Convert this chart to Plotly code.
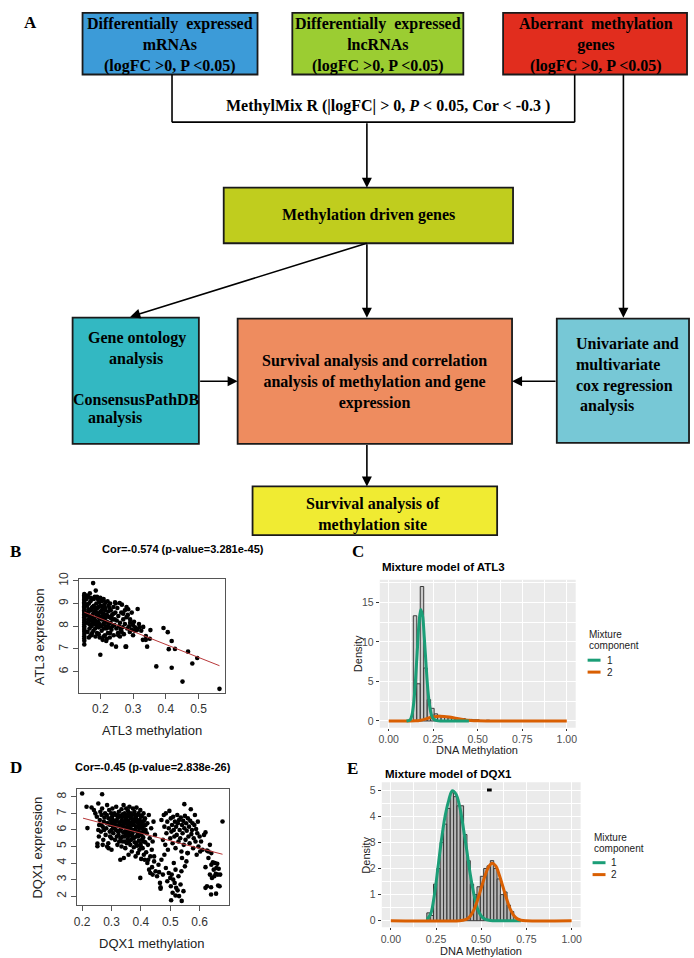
import plotly.graph_objects as go

# ------------------------------------------------------------------ data
# Panel B: ATL3 methylation vs expression
atl3_points = [
    (0.151, 9.42), (0.151, 9.36), (0.151, 9.30), (0.151, 9.24), (0.151, 9.18), (0.151, 9.12), (0.151, 9.06),
    (0.151, 9.00), (0.151, 8.94), (0.151, 8.88), (0.151, 8.82), (0.151, 8.76), (0.151, 8.70), (0.151, 8.64),
    (0.151, 8.58), (0.151, 8.52), (0.151, 8.46), (0.151, 8.40), (0.151, 8.32), (0.151, 8.24), (0.151, 8.16),
    (0.151, 8.08), (0.151, 8.00), (0.151, 7.92), (0.151, 7.84), (0.151, 7.76), (0.151, 7.66), (0.151, 7.56),
    (0.151, 7.46), (0.151, 7.36), (0.151, 7.20),
    (0.158, 9.20), (0.160, 8.90), (0.162, 8.60), (0.163, 8.30), (0.165, 9.00), (0.166, 8.10), (0.167, 7.90),
    (0.168, 8.70), (0.170, 9.10), (0.170, 8.40), (0.172, 8.00), (0.173, 7.60), (0.174, 8.80), (0.175, 9.20),
    (0.176, 8.50), (0.177, 8.20), (0.178, 9.90), (0.179, 7.80), (0.180, 8.90), (0.181, 8.60), (0.182, 8.30),
    (0.183, 9.30), (0.184, 7.90), (0.185, 8.70), (0.186, 9.57), (0.187, 8.10), (0.188, 9.00), (0.189, 8.45),
    (0.190, 7.70), (0.191, 8.80), (0.192, 9.20), (0.193, 8.20), (0.194, 8.55), (0.195, 7.95), (0.196, 9.05),
    (0.197, 8.35), (0.198, 7.50), (0.200, 6.74), (0.200, 8.65), (0.201, 8.90), (0.202, 8.00), (0.203, 9.10),
    (0.204, 7.80), (0.205, 8.40), (0.206, 8.75), (0.207, 7.40), (0.208, 9.15), (0.209, 8.10), (0.210, 8.55),
    (0.211, 7.90), (0.212, 8.95), (0.213, 8.30), (0.214, 7.60), (0.215, 8.80), (0.216, 9.05), (0.217, 8.00),
    (0.218, 7.35), (0.219, 8.50), (0.220, 8.20), (0.222, 9.10), (0.223, 7.70), (0.224, 8.65), (0.225, 8.90),
    (0.226, 7.95), (0.228, 8.40), (0.229, 7.50), (0.230, 9.00), (0.231, 8.15), (0.232, 8.70), (0.234, 7.85),
    (0.235, 7.20), (0.236, 8.50), (0.238, 8.30), (0.240, 8.85), (0.241, 7.60), (0.243, 8.05), (0.245, 9.05),
    (0.246, 8.60), (0.247, 9.00), (0.248, 7.10), (0.249, 7.90), (0.250, 8.25), (0.252, 8.80), (0.254, 7.70),
    (0.255, 8.45), (0.257, 8.00), (0.259, 9.02), (0.260, 8.15), (0.262, 7.85), (0.264, 8.60), (0.266, 8.95),
    (0.268, 7.95), (0.270, 8.30), (0.272, 7.65), (0.275, 8.10), (0.277, 7.10), (0.279, 7.10), (0.280, 8.40),
    (0.282, 7.90), (0.285, 8.75), (0.288, 8.00), (0.291, 8.30), (0.291, 8.15), (0.295, 7.85), (0.300, 8.05),
    (0.305, 7.80), (0.310, 7.90), (0.312, 7.83), (0.314, 8.76), (0.320, 7.95), (0.331, 7.97), (0.330, 7.40),
    (0.339, 7.57), (0.339, 7.40), (0.343, 7.10), (0.351, 7.45), (0.353, 7.83), (0.371, 6.23), (0.393, 7.92),
    (0.406, 7.74), (0.418, 7.35), (0.418, 6.17), (0.409, 6.99), (0.428, 7.00), (0.451, 5.56), (0.468, 6.88),
    (0.481, 6.36), (0.496, 6.60), (0.564, 5.24),
    (0.156, 8.95), (0.157, 8.50), (0.159, 8.15), (0.161, 7.75), (0.164, 8.75), (0.166, 8.45), (0.169, 8.25),
    (0.171, 8.70), (0.174, 8.05), (0.176, 8.85), (0.178, 8.35), (0.180, 8.10), (0.183, 8.80), (0.185, 8.25),
    (0.187, 8.60), (0.190, 8.00), (0.192, 8.45), (0.194, 8.85), (0.197, 8.10), (0.199, 8.40), (0.202, 8.60),
    (0.204, 8.30), (0.207, 8.85), (0.209, 8.50), (0.212, 8.15), (0.214, 8.70), (0.217, 8.40), (0.219, 7.90),
    (0.222, 8.45), (0.225, 8.10), (0.228, 8.80), (0.230, 7.70), (0.233, 8.35), (0.237, 8.00), (0.240, 8.55),
    (0.244, 8.30), (0.158, 9.35), (0.163, 9.30), (0.168, 9.45), (0.171, 9.25), (0.180, 9.20), (0.190, 9.30),
    (0.200, 9.25), (0.210, 9.20), (0.165, 7.50), (0.170, 7.60), (0.175, 7.70), (0.185, 7.55), (0.195, 7.65),
    (0.210, 7.55), (0.220, 7.45), (0.255, 7.60), (0.260, 7.55), (0.265, 7.75), (0.270, 8.55), (0.275, 8.70),
    (0.280, 8.85), (0.284, 8.50), (0.290, 7.75), (0.296, 8.60), (0.300, 7.60), (0.303, 8.20), (0.306, 7.95),
    (0.318, 8.10), (0.325, 7.80),
]
atl3_meth = [p[0] for p in atl3_points]
atl3_expr = [p[1] for p in atl3_points]
atl3_fit_x = [0.151, 0.564]
atl3_fit_y = [8.62, 6.26]

# Panel D: DQX1 methylation vs expression
dqx1_points = [
    (0.200, 8.20), (0.268, 8.16), (0.218, 6.11), (0.548, 7.56), (0.678, 6.51), (0.398, 3.10), (0.503, 1.75),
    (0.539, 1.71), (0.518, 2.04), (0.639, 2.10), (0.656, 2.15), (0.663, 2.64), (0.668, 2.60), (0.639, 2.54),
    (0.467, 2.54), (0.467, 2.45),
    (0.215, 7.40), (0.232, 7.36), (0.240, 7.20), (0.245, 7.00), (0.250, 6.80), (0.255, 7.60), (0.252, 5.18),
    (0.252, 5.02), (0.257, 5.60), (0.258, 6.30), (0.260, 6.60), (0.262, 7.10), (0.264, 5.90), (0.266, 6.90),
    (0.268, 7.30), (0.270, 6.20), (0.272, 5.40), (0.274, 6.50), (0.276, 6.75), (0.278, 7.00), (0.280, 5.70),
    (0.282, 6.10), (0.284, 6.90), (0.285, 7.50), (0.287, 6.40), (0.289, 5.20), (0.290, 6.70), (0.292, 7.20),
    (0.294, 5.90), (0.295, 6.30), (0.297, 6.60), (0.299, 7.00), (0.300, 5.50), (0.300, 6.00),
    (0.302, 6.80), (0.303, 7.30), (0.305, 6.20), (0.306, 5.80), (0.308, 6.50), (0.310, 7.00), (0.311, 6.35),
    (0.312, 5.40), (0.314, 6.90), (0.315, 6.00), (0.316, 7.40), (0.318, 6.60), (0.320, 5.10), (0.321, 6.25),
    (0.322, 6.75), (0.324, 5.70), (0.325, 7.10), (0.327, 6.45), (0.328, 5.95), (0.330, 6.85), (0.330, 4.20),
    (0.331, 5.50), (0.333, 6.10), (0.334, 7.25), (0.335, 6.60), (0.337, 5.30), (0.338, 6.95), (0.339, 6.30),
    (0.340, 5.85), (0.341, 7.50), (0.342, 4.30), (0.343, 6.50), (0.344, 5.60), (0.345, 7.00), (0.346, 6.15),
    (0.347, 4.90), (0.348, 6.70), (0.349, 5.75), (0.350, 7.30), (0.351, 6.40), (0.352, 5.20), (0.353, 6.85),
    (0.354, 6.00), (0.355, 5.45), (0.356, 7.15), (0.357, 6.55), (0.358, 4.50), (0.359, 5.90), (0.360, 6.25),
    (0.361, 7.40), (0.362, 5.65), (0.363, 6.80), (0.364, 5.10), (0.365, 6.10), (0.366, 7.00), (0.367, 5.40),
    (0.368, 6.45), (0.369, 4.70), (0.370, 6.90), (0.371, 5.80), (0.372, 6.30), (0.373, 7.30), (0.374, 5.55),
    (0.375, 6.65), (0.376, 4.95), (0.377, 6.00), (0.378, 7.10), (0.379, 5.25), (0.380, 6.50), (0.381, 5.95),
    (0.382, 4.40), (0.383, 6.75), (0.384, 5.60), (0.385, 7.35), (0.386, 6.20), (0.387, 5.05), (0.388, 6.90),
    (0.389, 5.75), (0.390, 4.60), (0.391, 6.40), (0.392, 7.00), (0.393, 5.35), (0.394, 6.10), (0.395, 4.80),
    (0.396, 6.60), (0.397, 5.85), (0.398, 7.20), (0.399, 5.15), (0.400, 6.35), (0.401, 4.25), (0.402, 5.70),
    (0.403, 6.85), (0.404, 5.40), (0.405, 6.10), (0.406, 4.90), (0.407, 6.50), (0.408, 5.55), (0.409, 7.00),
    (0.410, 4.50), (0.411, 6.25), (0.412, 5.90), (0.413, 4.20), (0.414, 6.70), (0.415, 5.25), (0.416, 6.00),
    (0.418, 4.65), (0.420, 5.80), (0.422, 6.40), (0.424, 5.10), (0.425, 4.20), (0.427, 6.90), (0.430, 5.50),
    (0.432, 4.40), (0.435, 6.10), (0.437, 4.80), (0.440, 5.30), (0.443, 6.50), (0.445, 4.10), (0.448, 5.70),
    (0.305, 6.60), (0.310, 6.10), (0.315, 6.50), (0.320, 6.90), (0.322, 5.90), (0.326, 6.30), (0.330, 6.00),
    (0.333, 6.50), (0.336, 6.80), (0.340, 6.20), (0.343, 6.90), (0.346, 5.90), (0.350, 6.60), (0.353, 6.20),
    (0.356, 6.90), (0.360, 5.70), (0.363, 6.40), (0.366, 6.70), (0.370, 6.00), (0.373, 6.60), (0.376, 6.30),
    (0.380, 6.90), (0.383, 6.20), (0.386, 6.60), (0.390, 5.90), (0.393, 6.50), (0.396, 6.20), (0.400, 6.80),
    (0.404, 6.30), (0.408, 5.90), (0.412, 6.60), (0.416, 6.30), (0.338, 5.60), (0.345, 5.30), (0.352, 5.70),
    (0.360, 5.30), (0.368, 5.70), (0.376, 5.50), (0.384, 5.20), (0.392, 5.60), (0.400, 5.00), (0.410, 5.30),
    (0.318, 5.60), (0.326, 5.30), (0.334, 5.00), (0.300, 6.40), (0.295, 5.60), (0.285, 6.40), (0.275, 6.00),
    (0.265, 6.30), (0.255, 6.00), (0.285, 5.00), (0.270, 5.10), (0.290, 4.90), (0.300, 4.80),
    (0.422, 4.00), (0.428, 3.60), (0.432, 3.40), (0.438, 3.75), (0.440, 3.30), (0.445, 4.40), (0.450, 3.50),
    (0.455, 3.20), (0.460, 3.90), (0.462, 3.45), (0.465, 2.80), (0.470, 4.20), (0.475, 3.30), (0.480, 4.50),
    (0.485, 3.70), (0.490, 2.90), (0.495, 3.40), (0.500, 3.10), (0.502, 2.60), (0.505, 3.30), (0.508, 2.20),
    (0.510, 3.00), (0.512, 4.00), (0.515, 2.80), (0.518, 3.60), (0.520, 2.50), (0.525, 2.35), (0.528, 3.20),
    (0.530, 2.00), (0.535, 2.70), (0.538, 3.50), (0.540, 4.30), (0.545, 2.30), (0.550, 3.80), (0.555, 4.10),
    (0.560, 4.60),
    (0.470, 6.60), (0.475, 5.40), (0.478, 6.90), (0.480, 6.20), (0.483, 5.10), (0.485, 7.00), (0.487, 5.80),
    (0.490, 6.50), (0.492, 4.80), (0.495, 6.10), (0.497, 7.15), (0.500, 5.50), (0.502, 6.70), (0.504, 5.90),
    (0.506, 6.30), (0.508, 5.20), (0.510, 6.80), (0.512, 6.00), (0.514, 5.60), (0.516, 6.50), (0.518, 4.90),
    (0.520, 6.20), (0.522, 5.70), (0.524, 6.90), (0.526, 6.40), (0.528, 5.30), (0.530, 6.60), (0.532, 6.00),
    (0.534, 5.50), (0.536, 6.75), (0.538, 4.70), (0.540, 6.30), (0.542, 5.80), (0.544, 6.55), (0.546, 5.10),
    (0.548, 6.10), (0.550, 6.85), (0.552, 5.40), (0.554, 6.40), (0.556, 5.95), (0.558, 4.60), (0.560, 6.70),
    (0.562, 5.60), (0.564, 6.20), (0.566, 5.20), (0.568, 6.55), (0.570, 7.25), (0.572, 5.75), (0.574, 6.00),
    (0.576, 6.40), (0.578, 4.90), (0.580, 5.50), (0.582, 6.30), (0.584, 6.90), (0.586, 5.30), (0.588, 6.05),
    (0.590, 4.50), (0.592, 5.80), (0.594, 6.50), (0.596, 5.00), (0.600, 5.60), (0.602, 4.70), (0.605, 5.30),
    (0.610, 4.80), (0.615, 5.70), (0.620, 5.85), (0.625, 4.75), (0.630, 4.70), (0.635, 5.10), (0.640, 4.60),
    (0.620, 3.75), (0.630, 4.30), (0.635, 3.30), (0.640, 3.90), (0.642, 3.10), (0.645, 4.05), (0.648, 3.60),
    (0.650, 3.20), (0.652, 4.00), (0.655, 3.35), (0.657, 3.70), (0.660, 3.95), (0.662, 3.30), (0.665, 3.65),
    (0.620, 2.50), (0.625, 2.60), (0.670, 3.30),
]
dqx1_meth = [p[0] for p in dqx1_points]
dqx1_expr = [p[1] for p in dqx1_points]
dqx1_fit_x = [0.203, 0.678]
dqx1_fit_y = [6.71, 4.53]

# Panel C: ATL3 methylation histogram (density) and mixture components
atl3_bin_width = 0.0195
atl3_bin_left = [0.138, 0.1575, 0.177, 0.1965, 0.216, 0.2355, 0.255, 0.2745, 0.294, 0.3135, 0.333,
                 0.3525, 0.372, 0.3915, 0.411, 0.4305, 0.450, 0.4695, 0.489, 0.5085, 0.528, 0.5475]
atl3_density = [13.3, 4.7, 17.0, 6.7, 2.7, 1.6, 0.9, 0.7, 0.6, 0.5, 0.4,
                0.3, 0.25, 0.25, 0.3, 0.15, 0.2, 0.15, 0.15, 0.0, 0.0, 0.1]
atl3_c1_x = [0.10, 0.12, 0.13, 0.14, 0.15, 0.16, 0.17, 0.18, 0.19, 0.20, 0.21, 0.22, 0.23, 0.24, 0.25,
             0.27, 0.30, 0.45]
atl3_c1_y = [0.0, 0.15, 0.7, 2.2, 5.0, 8.7, 12.3, 14.1, 13.3, 10.5, 7.0, 3.9, 1.9, 0.75, 0.3,
             0.05, 0.0, 0.0]
atl3_c2_x = [0.00, 0.15, 0.18, 0.20, 0.22, 0.25, 0.28, 0.31, 0.34, 0.37, 0.40, 0.43, 0.46, 0.50, 0.55, 1.00]
atl3_c2_y = [0.0, 0.02, 0.1, 0.2, 0.35, 0.5, 0.6, 0.58, 0.5, 0.38, 0.25, 0.14, 0.07, 0.02, 0.0, 0.0]

# Panel E: DQX1 methylation histogram (density) and mixture components
dqx1_bin_width = 0.0185
dqx1_bin_left = [0.199, 0.2175, 0.236, 0.2545, 0.273, 0.2915, 0.310, 0.3285, 0.347, 0.3655, 0.384,
                 0.4025, 0.421, 0.4395, 0.458, 0.4765, 0.495, 0.5135, 0.532, 0.5505, 0.569, 0.5875,
                 0.606, 0.6245, 0.643, 0.6615]
dqx1_density = [0.3, 0.2, 1.4, 2.0, 3.0, 3.7, 4.3, 4.9, 4.75, 4.4, 4.4,
                3.3, 2.3, 1.4, 1.0, 1.3, 1.7, 2.0, 2.1, 2.3, 2.0, 1.6,
                1.0, 1.1, 0.6, 0.35]
dqx1_c1_x = [0.20, 0.22, 0.24, 0.26, 0.28, 0.30, 0.32, 0.34, 0.36, 0.38, 0.40, 0.42, 0.44, 0.46,
             0.48, 0.50, 0.52, 0.55, 0.60, 0.72]
dqx1_c1_y = [0.05, 0.25, 0.95, 2.0, 3.1, 4.0, 4.6, 4.98, 4.85, 4.4, 3.6, 2.7, 1.75, 1.0,
             0.45, 0.18, 0.06, 0.01, 0.0, 0.0]
dqx1_c2_x = [0.00, 0.38, 0.40, 0.42, 0.44, 0.46, 0.48, 0.50, 0.52, 0.54, 0.56, 0.58, 0.60, 0.62,
             0.64, 0.66, 0.68, 0.70, 0.72, 0.75, 1.00]
dqx1_c2_y = [0.0, 0.0, 0.02, 0.06, 0.18, 0.42, 0.8, 1.25, 1.7, 2.05, 2.2, 2.1, 1.75, 1.3,
             0.85, 0.45, 0.2, 0.07, 0.02, 0.0, 0.0]
dqx1_mark_x = [0.532, 0.558]
dqx1_mark_y = [5.0, 5.0]

# text content
cor_atl3 = "Cor=-0.574 (p-value=3.281e-45)"
cor_dqx1 = "Cor=-0.45 (p-value=2.838e-26)"
mix_ticks_x = [0, 0.25, 0.5, 0.75, 1.0]

# ------------------------------------------------------------------ layout helpers
W, H = 694, 958
SERIF = "Liberation Serif, Times New Roman, serif"
SANS = "Liberation Sans, Arial, sans-serif"
GREEN = "#1B9E77"
ORANGE = "#D95F02"
FS = 16  # flowchart font size


def X(px):
    return px / W


def Y(py):
    return 1 - py / H


annotations = []
shapes = []


def txt(x, y, s, size, family=SERIF, bold=True, color="black", xanchor="center", angle=0, align="center"):
    annotations.append(dict(
        x=X(x), y=Y(y), xref="paper", yref="paper", showarrow=False,
        text=("<b>%s</b>" % s) if bold else s, textangle=angle,
        font=dict(family=family, size=size, color=color),
        xanchor=xanchor, yanchor="middle", align=align))


def arrow(x0, y0, x1, y1):
    annotations.append(dict(
        x=X(x1), y=Y(y1), xref="paper", yref="paper",
        ax=x0 - x1, ay=y0 - y1, axref="pixel", ayref="pixel",
        showarrow=True, arrowhead=2, arrowsize=1.25, arrowwidth=1.6,
        arrowcolor="black", text="", standoff=0, startstandoff=0))


def box(x0, y0, x1, y1, color):
    shapes.append(dict(type="rect", xref="paper", yref="paper",
                       x0=X(x0), x1=X(x1), y0=Y(y1), y1=Y(y0),
                       fillcolor=color, line=dict(color="#1a1a1a", width=1.8), layer="above"))


def seg(x0, y0, x1, y1, color="black", width=1.6):
    shapes.append(dict(type="line", xref="paper", yref="paper",
                       x0=X(x0), x1=X(x1), y0=Y(y0), y1=Y(y1),
                       line=dict(color=color, width=width), layer="above"))


NB = "\u00a0"

# ------------------------------------------------------------------ flowchart (panel A)
box(80, 6, 256, 68, "#3C9BD8")
box(291, 6, 463, 68, "#9BCD32")
box(503, 6, 688, 68, "#E12D1E")
box(222, 182, 513, 238, "#C0CD1E")
box(70, 313, 197, 440, "#33B8C2")
box(236, 314, 512, 440, "#EE8C5F")
box(557, 314, 690, 439, "#77C8D6")
box(251, 483, 497, 532, "#F0EB32")

seg(170, 68, 170, 116)
seg(170, 116, 575, 116)
seg(575, 116, 575, 68)
arrow(366, 116, 366, 182)
arrow(624, 68, 624, 313)
arrow(366, 238, 128, 312)
arrow(366, 238, 366, 313)
arrow(197, 377, 236, 377)
arrow(557, 377, 512, 377)
arrow(366, 440, 366, 483)

txt(28, 16, "A", 17)
txt(168, 38, "Differentially" + NB * 2 + "expressed<br>mRNAs<br>(logFC >0, P <0.05)", FS)
txt(377, 38, "Differentially" + NB * 2 + "expressed<br>lncRNAs<br>(logFC >0, P <0.05)", FS)
txt(596, 38, "Aberrant" + NB * 2 + "methylation<br>genes<br>(logFC >0, P <0.05)", FS)
txt(387, 100, "MethylMix R (|logFC| > 0, <i>P</i> < 0.05, Cor < -0.3 )", FS)
txt(368, 210, "Methylation driven genes", FS)
txt(135, 333, "Gene ontology", FS)
txt(134, 355, "analysis", FS)
txt(134, 395, "ConsensusPathDB", FS)
txt(113, 414, "analysis", FS)
txt(374, 378, "Survival analysis and correlation<br>analysis of methylation and gene<br>expression", FS)
txt(574, 371, "Univariate and<br>multivariate<br>cox regression<br>" + NB + "analysis", FS,
    xanchor="left", align="left")
txt(372, 511, "Survival analysis of<br>methylation site", FS)

# ------------------------------------------------------------------ panel labels & texts
txt(13, 549, "B", 17)
txt(357, 549, "C", 17)
txt(13, 766, "D", 17)
txt(352, 767, "E", 17)
txt(181, 546, cor_atl3, 11, family=SANS)
txt(151, 766, cor_dqx1, 11, family=SANS)

txt(150, 729, "ATL3 methylation", 13, family=SANS, bold=False, color="#222")
txt(37, 634, "ATL3 expression", 13, family=SANS, bold=False, color="#222", angle=-90)
txt(150, 943, "DQX1 methylation", 13, family=SANS, bold=False, color="#222")
txt(35, 847, "DQX1 expression", 13, family=SANS, bold=False, color="#222", angle=-90)

# ggplot titles / axis titles / legends
txt(379, 564, "Mixture model of ATL3", 11.5, family=SANS, xanchor="left")
txt(382, 773, "Mixture model of DQX1", 11.5, family=SANS, xanchor="left")
txt(477, 748, "DNA Methylation", 11, family=SANS, bold=False, color="#222")
txt(481, 951, "DNA Methylation", 11, family=SANS, bold=False, color="#222")
txt(357, 651, "Density", 11, family=SANS, bold=False, color="#222", angle=-90)
txt(365, 854, "Density", 11, family=SANS, bold=False, color="#222", angle=-90)

for (lx, ty1, ty2, k1, k2) in [(587, 632, 643, 658, 670), (592, 837, 848, 862, 874)]:
    txt(lx, ty1, "Mixture", 10, family=SANS, bold=False, color="#222", xanchor="left")
    txt(lx, ty2, "component", 10, family=SANS, bold=False, color="#222", xanchor="left")
    seg(lx + 1, k1, lx + 14, k1, color=GREEN, width=3)
    seg(lx + 1, k2, lx + 14, k2, color=ORANGE, width=3)
    txt(lx + 18, k1, "1", 10, family=SANS, bold=False, color="#222", xanchor="left")
    txt(lx + 18, k2, "2", 10, family=SANS, bold=False, color="#222", xanchor="left")

# ggplot grey panel backgrounds
for ax in ["x2", "x4"]:
    ya = "y" + ax[1:]
    shapes.append(dict(type="rect", xref=ax + " domain", yref=ya + " domain",
                       x0=0, x1=1, y0=0, y1=1, fillcolor="#EBEBEB", line=dict(width=0), layer="below"))

# ------------------------------------------------------------------ traces
fig = go.Figure()

fig.add_trace(go.Scatter(x=atl3_meth, y=atl3_expr, mode="markers", xaxis="x", yaxis="y",
                         marker=dict(color="black", size=4.6), showlegend=False))
fig.add_trace(go.Scatter(x=atl3_fit_x, y=atl3_fit_y, mode="lines", xaxis="x", yaxis="y",
                         line=dict(color="#B8383A", width=1), showlegend=False))

fig.add_trace(go.Scatter(x=dqx1_meth, y=dqx1_expr, mode="markers", xaxis="x3", yaxis="y3",
                         marker=dict(color="black", size=4.6), showlegend=False))
fig.add_trace(go.Scatter(x=dqx1_fit_x, y=dqx1_fit_y, mode="lines", xaxis="x3", yaxis="y3",
                         line=dict(color="#B8383A", width=1), showlegend=False))

fig.add_trace(go.Bar(x=[l + atl3_bin_width / 2 for l in atl3_bin_left], y=atl3_density,
                     width=atl3_bin_width, xaxis="x2", yaxis="y2",
                     marker=dict(color="rgba(175,175,175,0.55)", line=dict(color="#3a3a3a", width=1)),
                     showlegend=False))
fig.add_trace(go.Scatter(x=atl3_c2_x, y=atl3_c2_y, mode="lines", xaxis="x2", yaxis="y2",
                         line=dict(color=ORANGE, width=3, shape="spline"), showlegend=False))
fig.add_trace(go.Scatter(x=atl3_c1_x, y=atl3_c1_y, mode="lines", xaxis="x2", yaxis="y2",
                         line=dict(color=GREEN, width=3, shape="spline"), showlegend=False))

fig.add_trace(go.Bar(x=[l + dqx1_bin_width / 2 for l in dqx1_bin_left], y=dqx1_density,
                     width=dqx1_bin_width, xaxis="x4", yaxis="y4",
                     marker=dict(color="rgba(160,160,160,0.7)", line=dict(color="#3a3a3a", width=1)),
                     showlegend=False))
fig.add_trace(go.Scatter(x=dqx1_c1_x, y=dqx1_c1_y, mode="lines", xaxis="x4", yaxis="y4",
                         line=dict(color=GREEN, width=3, shape="spline"), showlegend=False))
fig.add_trace(go.Scatter(x=dqx1_c2_x, y=dqx1_c2_y, mode="lines", xaxis="x4", yaxis="y4",
                         line=dict(color=ORANGE, width=3, shape="spline"), showlegend=False))
fig.add_trace(go.Scatter(x=dqx1_mark_x, y=dqx1_mark_y, mode="lines", xaxis="x4", yaxis="y4",
                         line=dict(color="black", width=3), showlegend=False))

# ------------------------------------------------------------------ axes
r_axis = dict(showline=True, mirror=True, linecolor="#555", linewidth=1, ticks="outside",
              ticklen=5, tickcolor="#555", showgrid=False, zeroline=False,
              tickfont=dict(family=SANS, size=12, color="#333"))
gg_axis = dict(showline=False, ticks="outside", ticklen=3, tickcolor="#333", tickwidth=1,
               showgrid=True, gridcolor="white", gridwidth=1.1, zeroline=False,
               tickfont=dict(family=SANS, size=10.5, color="#4D4D4D"))

fig.update_layout(
    width=W, height=H, autosize=False, margin=dict(l=0, r=0, t=0, b=0),
    paper_bgcolor="white", plot_bgcolor="white", barmode="overlay", showlegend=False,
    xaxis=dict(r_axis, domain=[X(76), X(223)], range=[0.1335, 0.58], anchor="y",
               tickvals=[0.2, 0.3, 0.4, 0.5]),
    yaxis=dict(r_axis, domain=[Y(691), Y(576)], range=[5.06, 10.09], anchor="x",
               tickvals=[6, 7, 8, 9, 10], tickangle=-90),
    xaxis3=dict(r_axis, domain=[X(74), X(227)], range=[0.181, 0.699], anchor="y3",
                tickvals=[0.2, 0.3, 0.4, 0.5, 0.6]),
    yaxis3=dict(r_axis, domain=[Y(905), Y(788)], range=[1.44, 8.46], anchor="x3",
                tickvals=[2, 3, 4, 5, 6, 7, 8], tickangle=-90),
    xaxis2=dict(gg_axis, domain=[X(379), X(576)], range=[-0.05, 1.05], anchor="y2",
                tickvals=mix_ticks_x, tickformat=".2f", ticklen=2,
                minor=dict(dtick=0.125, tick0=0, showgrid=True, gridcolor="white", gridwidth=0.5)),
    yaxis2=dict(gg_axis, domain=[Y(726), Y(577)], range=[-0.85, 17.85], anchor="x2",
                tickvals=[0, 5, 10, 15],
                minor=dict(dtick=2.5, tick0=0, showgrid=True, gridcolor="white", gridwidth=0.5)),
    xaxis4=dict(gg_axis, domain=[X(381), X(581)], range=[-0.05, 1.05], anchor="y4",
                tickvals=mix_ticks_x, tickformat=".2f", ticklen=2,
                minor=dict(dtick=0.125, tick0=0, showgrid=True, gridcolor="white", gridwidth=0.5)),
    yaxis4=dict(gg_axis, domain=[Y(927), Y(781)], range=[-0.25, 5.3], anchor="x4",
                tickvals=[0, 1, 2, 3, 4, 5],
                minor=dict(dtick=0.5, tick0=0, showgrid=True, gridcolor="white", gridwidth=0.5)),
    annotations=annotations,
    shapes=shapes,
)

fig.write_html("out.html", config={"displayModeBar": False},
               post_script="document.body.style.margin='0';")
